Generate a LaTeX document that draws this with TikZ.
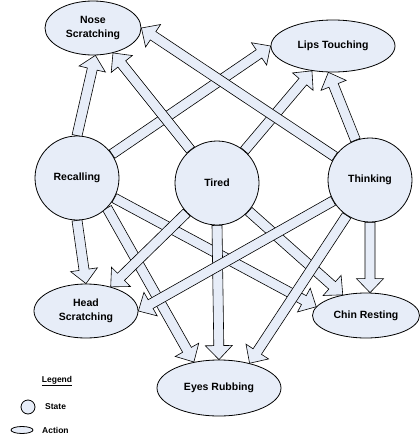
\documentclass[tikz,border=0pt]{standalone}
\usepackage{fontspec}
\setmainfont{Liberation Sans}
\usetikzlibrary{shapes.geometric,calc,backgrounds}
\definecolor{actfill}{RGB}{231,237,248}

% hollow block arrow from node to node
\newcommand{\actarrow}[2]{%
  \path (#1) -- (#2) coordinate[pos=0] (ta) coordinate[pos=1] (tb);
  \draw[blockarrow] let \p1=(ta), \p2=(tb),
    \n1={atan2(\y2-\y1,\x2-\x1)}, \n2={veclen(\x2-\x1,\y2-\y1)-14} in
    ($(ta)+(\n1+90:5pt)$) -- ($(ta)+(\n1:\n2)+(\n1+90:5pt)$)
    -- ($(ta)+(\n1:\n2)+(\n1+90:13.5pt)$) -- (tb)
    -- ($(ta)+(\n1:\n2)+(\n1-90:13.5pt)$)
    -- ($(ta)+(\n1:\n2)+(\n1-90:5pt)$)
    -- ($(ta)+(\n1-90:5pt)$) -- cycle;
}

\begin{document}
\begin{tikzpicture}[x=1pt, y=-1pt,
  state/.style={circle, draw, fill=actfill, line width=0.8pt, minimum size=84pt,
    inner sep=0pt, font=\bfseries\fontsize{10.5}{13.5}\selectfont},
  action/.style={ellipse, draw, fill=actfill, line width=0.8pt, inner sep=0pt,
    align=center, font=\bfseries\fontsize{10.5}{13.5}\selectfont},
  legtext/.style={anchor=west, inner sep=0pt, font=\bfseries\fontsize{8.5}{10}\selectfont},
  blockarrow/.style={draw, fill=actfill, line width=0.6pt}]
\useasboundingbox (0,0) rectangle (420,442);

% States
\node[state] (recalling) at (77,178) {Recalling};
\node[state] (tired) at (217,183) {Tired};
\node[state] (thinking) at (370,180) {Thinking};

% Actions
\node[action, minimum width=96pt, minimum height=54pt] (nose) at (93,28) {Nose\\Scratching};
\node[action, minimum width=124pt, minimum height=52pt] (lips) at (333,46) {Lips Touching};
\node[action, minimum width=104pt, minimum height=54pt] (head) at (86,311) {Head\\Scratching};
\node[action, minimum width=124pt, minimum height=56pt] (eyes) at (219,388) {Eyes Rubbing};
\node[action, minimum width=107pt, minimum height=45pt] (chin) at (366,315.5) {Chin Resting};

% Arrows
\begin{scope}[on background layer]
\actarrow{recalling.north}{nose.-85}
\actarrow{recalling}{lips.west}
\actarrow{recalling.south}{head.north}
\actarrow{recalling.-45}{eyes.134}
\actarrow{recalling}{chin.170}

\actarrow{tired}{nose}
\actarrow{tired}{lips}
\actarrow{tired}{head}
\actarrow{tired.south}{eyes.north}
\actarrow{tired}{chin}

\actarrow{thinking}{nose.east}
\actarrow{thinking.110}{lips.-100}
\actarrow{thinking}{head.east}
\actarrow{thinking}{eyes.39}
\actarrow{thinking.south}{chin.80}
\end{scope}

% Legend
\node[legtext, anchor=center] (legend) at (57,381) {\underline{Legend}};
\node[circle, draw, fill=actfill, line width=0.8pt, minimum size=14pt, inner sep=0pt] (legstate) at (28,407) {};
\node[legtext] (statetext) at (45,407) {State};
\node[ellipse, draw, fill=actfill, line width=0.8pt, minimum width=22pt, minimum height=7pt, inner sep=0pt] (legaction) at (22,430) {};
\node[legtext] (actiontext) at (42,430) {Action};
\end{tikzpicture}
\end{document}
